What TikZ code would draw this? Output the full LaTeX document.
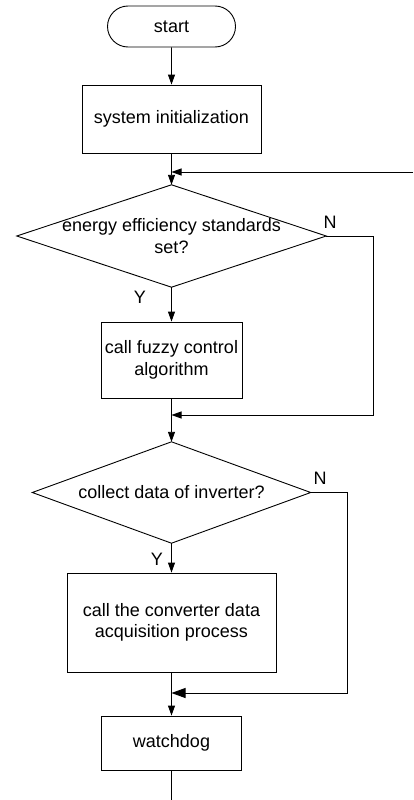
\documentclass[tikz,border=0pt]{standalone}
\usepackage{fontspec}
\setmainfont{Liberation Sans}
\usetikzlibrary{arrows.meta,shapes.misc}
\begin{document}
\begin{tikzpicture}[x=1pt,y=-1pt,
  every node/.style={font=\fontsize{18}{21.5}\selectfont},
  line/.style={draw=black,line width=0.9pt},
  arrow/.style={line,-{Triangle[length=10pt,width=7pt]}},
  bigarrow/.style={line,-{Triangle[length=14pt,width=10pt]}},
  terminal/.style={line,rounded rectangle,minimum width=128pt,minimum height=41pt,inner sep=0pt},
  procbox/.style={line,rectangle,inner sep=0pt,align=center},
  decision/.style={rectangle,inner sep=0pt,align=center},
  tag/.style={inner sep=0pt}]
\useasboundingbox (0,0) rectangle (413,800);

% main column of the flow chart
\node[terminal] (start) at (171.5,26.5) {start};
\node[procbox,minimum width=179pt,minimum height=68pt] (init) at (171.5,119) {system initialization};
\node[decision,minimum width=309pt,minimum height=102pt] (d1) at (171.5,236)
  {energy efficiency standards\\set?};
\node[procbox,minimum width=141pt,minimum height=76pt] (fuzzy) at (171.5,360)
  {call fuzzy control\\algorithm};
\node[decision,minimum width=278pt,minimum height=101pt] (d2) at (171.5,492.5)
  {collect data of inverter?};
\node[procbox,minimum width=209pt,minimum height=99pt] (acq) at (171.5,622.5)
  {call the converter data\\acquisition process};
\node[procbox,minimum width=140pt,minimum height=54pt] (wd) at (171.5,743) {watchdog};

% diamond outlines of the two decisions
\foreach \d in {d1,d2}
  \draw[line,line join=miter] (\d.north) -- (\d.east) -- (\d.south) -- (\d.west) -- cycle;

% junction and bend points
\coordinate (m1) at (171.5,172);
\coordinate (fb) at (413,172);
\coordinate (r1) at (373.5,415);
\coordinate (m2) at (171.5,415);
\coordinate (r2) at (347,693);
\coordinate (m3) at (171.5,693);
\coordinate (tail) at (171.5,800);

% branch labels
\node[tag] (n1) at (330,222) {N};
\node[tag] (y1) at (140,297) {Y};
\node[tag] (n2) at (320,478) {N};
\node[tag] (y2) at (157,559) {Y};

% connectors
\draw[arrow] (start) -- (init);
\draw[arrow] (init) -- (d1);
\draw[arrow] (fb) -- (m1);
\draw[arrow] (d1) -- (fuzzy);
\draw[arrow] (fuzzy) -- (d2);
\draw[arrow] (d1.east) -| (r1) -- (m2);
\draw[arrow] (d2) -- (acq);
\draw[arrow] (acq) -- (wd);
\draw[bigarrow] (d2.east) -| (r2) -- (m3);
\draw[line] (wd) -- (tail);
\end{tikzpicture}
\end{document}
